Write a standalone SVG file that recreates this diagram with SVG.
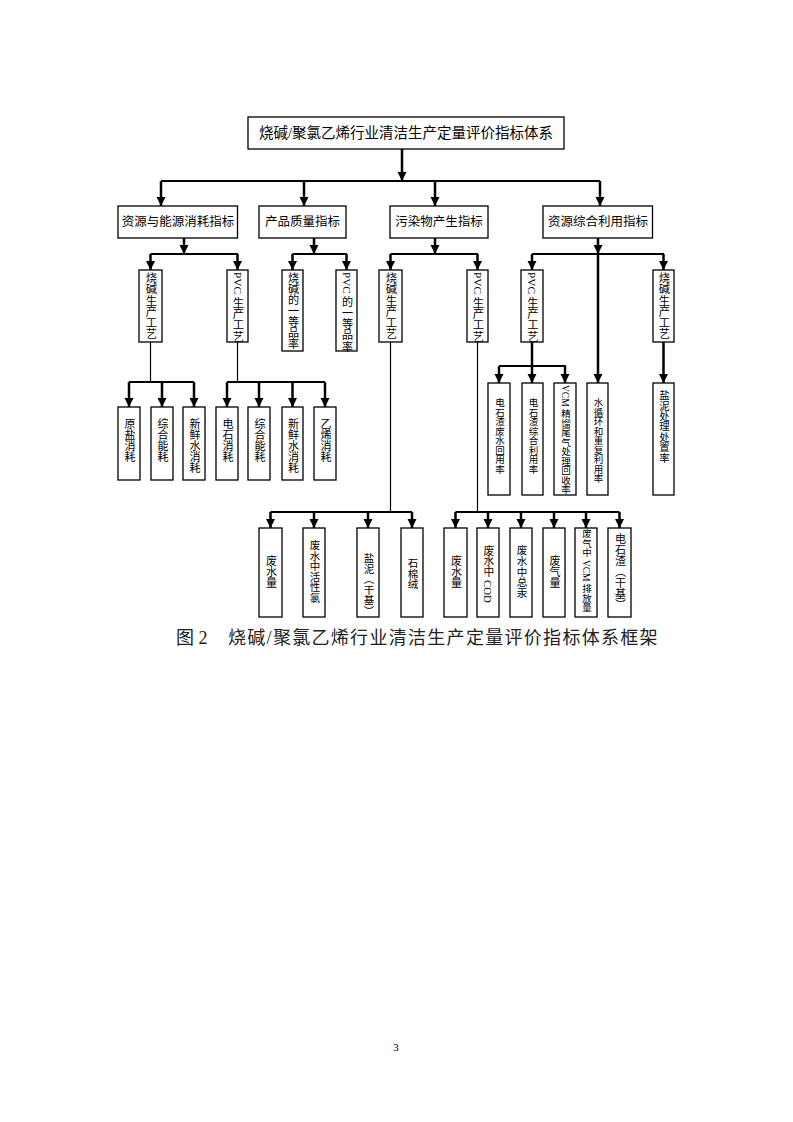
<svg xmlns="http://www.w3.org/2000/svg" width="793" height="1122" viewBox="0 0 793 1122">
<defs>
<marker id="ah" markerUnits="userSpaceOnUse" markerWidth="10" markerHeight="10" refX="9" refY="4.5" orient="auto">
<path d="M0,0 L9,4.5 L0,9 z" fill="#000"/>
</marker>
<style>
rect{fill:#fff;stroke:#000;stroke-width:1.3}
text{fill:#000;font-family:"Liberation Serif","Noto Sans CJK SC",serif}
.h{dominant-baseline:central;text-anchor:middle}
.v{writing-mode:vertical-rl;text-orientation:mixed;dominant-baseline:central}
.thick{stroke:#000;stroke-width:2.5;fill:none}
.bar{stroke:#000;stroke-width:2;fill:none}
.thin{stroke:#000;stroke-width:1.2;fill:none}
.arr{stroke:#000;stroke-width:2.5;fill:none;marker-end:url(#ah)}
</style>
</defs>
<rect x="0" y="0" width="793" height="1122" style="fill:#fff;stroke:none"/>

<g id="connectors">
<path class="arr" d="M402,149 V181"/>
<path class="bar" d="M161,181 H600"/>
<path class="arr" d="M161,181 V206"/>
<path class="arr" d="M304,181 V206"/>
<path class="arr" d="M435,181 V206"/>
<path class="arr" d="M600,181 V206"/>
<path class="arr" d="M184,238 V254"/>
<path class="bar" d="M150.5,254 H238"/>
<path class="arr" d="M150.5,254 V270"/>
<path class="arr" d="M237.5,254 V270"/>
<path class="arr" d="M314,238 V254"/>
<path class="bar" d="M292.5,254 H347"/>
<path class="arr" d="M292.5,254 V270"/>
<path class="arr" d="M346.5,254 V270"/>
<path class="arr" d="M435,238 V254"/>
<path class="bar" d="M390.5,254 H478"/>
<path class="arr" d="M390.5,254 V270"/>
<path class="arr" d="M477.5,254 V270"/>
<path class="arr" d="M598,238 V254"/>
<path class="arr" d="M598,254 V383"/>
<path class="bar" d="M532,254 H664"/>
<path class="arr" d="M532,254 V270"/>
<path class="arr" d="M663.5,254 V270"/>
<path class="thin" d="M150.5,342 V382"/>
<path class="bar" d="M129,382 H194"/>
<path class="arr" d="M129,382 V407"/>
<path class="arr" d="M162,382 V407"/>
<path class="arr" d="M194,382 V407"/>
<path class="thin" d="M237.5,342 V382"/>
<path class="bar" d="M227,382 H325"/>
<path class="arr" d="M227,382 V407"/>
<path class="arr" d="M259,382 V407"/>
<path class="arr" d="M292.5,382 V407"/>
<path class="arr" d="M325,382 V407"/>
<path class="thick" d="M532,342 V366"/>
<path class="bar" d="M499,366 H566"/>
<path class="arr" d="M499,366 V383"/>
<path class="arr" d="M532,366 V383"/>
<path class="arr" d="M565,366 V383"/>
<path class="arr" d="M663.5,342 V383"/>
<path class="thin" d="M390.5,342 V512"/>
<path class="bar" d="M270.5,512 H412"/>
<path class="arr" d="M270.5,512 V528"/>
<path class="arr" d="M314,512 V528"/>
<path class="arr" d="M368,512 V528"/>
<path class="arr" d="M412,512 V528"/>
<path class="thin" d="M477.5,342 V512"/>
<path class="bar" d="M455.5,512 H619.5"/>
<path class="arr" d="M455.5,512 V528"/>
<path class="arr" d="M488,512 V528"/>
<path class="arr" d="M521,512 V528"/>
<path class="arr" d="M554,512 V528"/>
<path class="arr" d="M586,512 V528"/>
<path class="arr" d="M619.5,512 V528"/>
</g>

<g id="root"><rect x="248" y="117" width="316" height="32"/><text class="h" x="406" y="133" font-size="14.5">烧碱/聚氯乙烯行业清洁生产定量评价指标体系</text></g>

<g id="n1"><rect x="118" y="206" width="119.5" height="32"/><text class="h" x="178" y="222" font-size="12.5">资源与能源消耗指标</text></g>
<g id="n2"><rect x="259" y="206" width="87" height="32"/><text class="h" x="302.5" y="222" font-size="12.5">产品质量指标</text></g>
<g id="n3"><rect x="390" y="206" width="98" height="32"/><text class="h" x="439" y="222" font-size="12.5">污染物产生指标</text></g>
<g id="n4"><rect x="543" y="206" width="109.5" height="32"/><text class="h" x="598" y="222" font-size="12.5">资源综合利用指标</text></g>

<g id="a1"><rect x="139" y="270" width="23" height="72"/><text class="v" x="150.5" y="272" font-size="11.3">烧碱生产工艺</text></g>
<g id="a2"><rect x="227" y="270" width="21" height="72"/><text class="v" x="237.5" y="272" font-size="11.3">PVC 生产工艺</text></g>
<g id="a3"><rect x="282" y="270" width="21" height="81"/><text class="v" x="292.5" y="272" font-size="11.1">烧碱的一等品率</text></g>
<g id="a4"><rect x="336" y="270" width="21" height="81"/><text class="v" x="346.5" y="272" font-size="11.1">PVC 的一等品率</text></g>
<g id="a5"><rect x="379" y="270" width="23" height="72"/><text class="v" x="390.5" y="272" font-size="11.3">烧碱生产工艺</text></g>
<g id="a6"><rect x="467" y="270" width="21" height="72"/><text class="v" x="477.5" y="272" font-size="11.3">PVC 生产工艺</text></g>
<g id="a7"><rect x="521" y="270" width="22" height="72"/><text class="v" x="532" y="272" font-size="11.3">PVC 生产工艺</text></g>
<g id="a8"><rect x="653" y="270" width="21" height="72"/><text class="v" x="663.5" y="272" font-size="11.3">烧碱生产工艺</text></g>

<g id="b1"><rect x="118" y="407" width="22" height="73"/><text class="v" x="129" y="418" font-size="11">原盐消耗</text></g>
<g id="b2"><rect x="151" y="407" width="22" height="73"/><text class="v" x="162" y="418" font-size="11">综合能耗</text></g>
<g id="b3"><rect x="183" y="407" width="22" height="73"/><text class="v" x="194" y="418" font-size="11">新鲜水消耗</text></g>
<g id="b4"><rect x="216" y="407" width="22" height="73"/><text class="v" x="227" y="418" font-size="11">电石消耗</text></g>
<g id="b5"><rect x="248" y="407" width="22" height="73"/><text class="v" x="259" y="418" font-size="11">综合能耗</text></g>
<g id="b6"><rect x="282" y="407" width="21" height="73"/><text class="v" x="292.5" y="418" font-size="11">新鲜水消耗</text></g>
<g id="b7"><rect x="314" y="407" width="22" height="73"/><text class="v" x="325" y="418" font-size="11">乙烯消耗</text></g>

<g id="c1"><rect x="488" y="383" width="22" height="112"/><text class="v" x="499" y="398" font-size="9.5">电石渣废水回用率</text></g>
<g id="c2"><rect x="522" y="383" width="21" height="112"/><text class="v" x="532.5" y="398" font-size="9.5">电石渣综合利用率</text></g>
<g id="c3"><rect x="554" y="383" width="22" height="112"/><text class="v" x="565" y="385" font-size="9.5">VCM 精馏尾气处理回收率</text></g>
<g id="c4"><rect x="587" y="383" width="21" height="112"/><text class="v" x="597.5" y="398" font-size="9.5">水循环和重复利用率</text></g>
<g id="c5"><rect x="653" y="383" width="21" height="112"/><text class="v" x="663.5" y="390" font-size="10.4">盐泥处理处置率</text></g>

<g id="d1"><rect x="259" y="528" width="23" height="89"/><text class="v" x="270.5" y="555" font-size="11">废水量</text></g>
<g id="d2"><rect x="303" y="528" width="22" height="89"/><text class="v" x="314" y="540" font-size="10.5">废水中活性氯</text></g>
<g id="d3"><rect x="357" y="528" width="22" height="89"/><text class="v" x="368" y="553" font-size="10.5">盐泥（干基）</text></g>
<g id="d4"><rect x="401" y="528" width="22" height="89"/><text class="v" x="412" y="558" font-size="10.5">石棉绒</text></g>
<g id="d5"><rect x="444" y="528" width="23" height="89"/><text class="v" x="455.5" y="555" font-size="11">废水量</text></g>
<g id="d6"><rect x="477" y="528" width="22" height="89"/><text class="v" x="488" y="545" font-size="10.8">废水中 COD</text></g>
<g id="d7"><rect x="510" y="528" width="22" height="89"/><text class="v" x="521" y="545" font-size="10.6">废水中总汞</text></g>
<g id="d8"><rect x="543" y="528" width="22" height="89"/><text class="v" x="554" y="555" font-size="11">废气量</text></g>
<g id="d9"><rect x="575" y="528" width="22" height="89"/><text class="v" x="586" y="529" font-size="9.5">废气中 VCM 排放量</text></g>
<g id="d10"><rect x="608" y="528" width="23" height="89"/><text class="v" x="619.5" y="533" font-size="11">电石渣（干基）</text></g>

<g id="caption">
<text x="176" y="638" font-size="18" style="dominant-baseline:central;fill:#222">图 2</text>
<text x="228" y="638" font-size="18" letter-spacing="1.3" style="dominant-baseline:central;fill:#222">烧碱/聚氯乙烯行业清洁生产定量评价指标体系框架</text>
</g>
<text x="396" y="1051" font-size="11" text-anchor="middle">3</text>
</svg>
